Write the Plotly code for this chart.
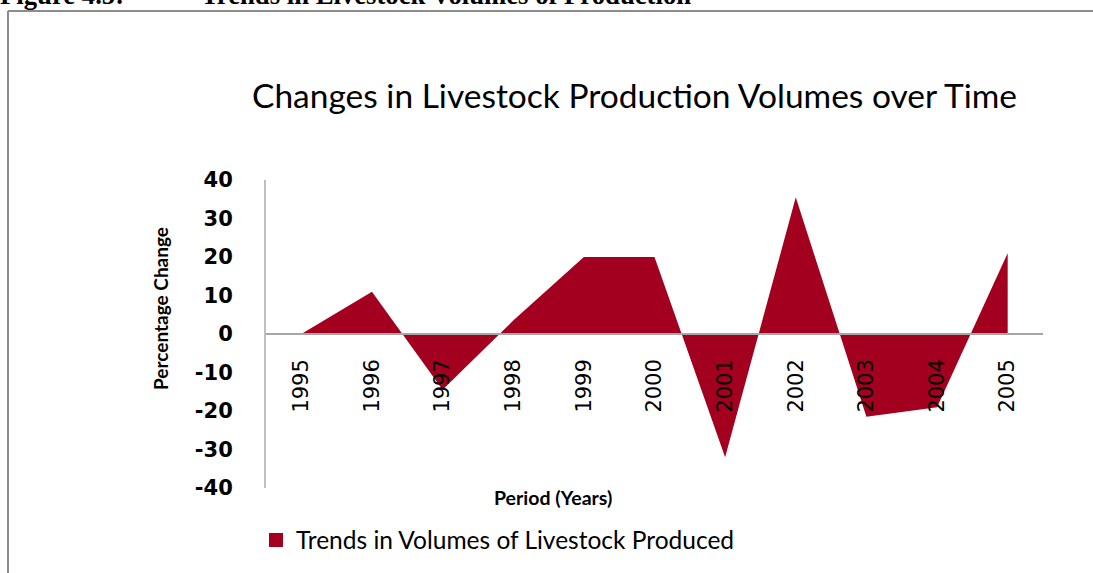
import plotly.graph_objects as go

years = ["1995", "1996", "1997", "1998", "1999", "2000", "2001", "2002", "2003", "2004", "2005"]
pct_change = [0, 11, -14.5, 3.5, 20, 20, -32, 35.5, -21.5, -19, 21]
y_ticks = [-40, -30, -20, -10, 0, 10, 20, 30, 40]
y_tick_text = ["-40", "-30", "-20", "-10", "0", "10", "20", "30", "40"]

W, H = 1093, 573
L, R, T, B = 266, 1043, 180, 488  # plot area in pixels


def px(x):
    return (x - L) / (R - L)


def py(y):
    return (B - y) / (B - T)


RED = "#A3001F"
fig = go.Figure()
fig.add_trace(go.Scatter(
    x=years, y=pct_change, mode="lines", fill="tozeroy",
    fillcolor=RED, line=dict(width=0, color=RED), showlegend=False,
    name="Trends in Volumes of Livestock Produced"))
fig.add_trace(go.Scatter(
    x=[None], y=[None], mode="markers",
    marker=dict(symbol="square", size=14, color=RED),
    name="Trends in Volumes of Livestock Produced", showlegend=True))

fig.update_layout(
    width=W, height=H,
    margin=dict(l=L, r=W - R, t=T, b=H - B, autoexpand=False),
    plot_bgcolor="white", paper_bgcolor="white",
    xaxis=dict(type="category", range=[-0.5, 10.5], anchor="free", position=0.5,
               showline=True, linecolor="#a6a6a6", linewidth=1.5,
               showgrid=False, zeroline=False, ticks="", tickangle=-90,
               ticklabelstandoff=16,
               tickfont=dict(family="DejaVu Sans", size=21, color="black")),
    yaxis=dict(range=[-40, 40], tickvals=y_ticks, ticktext=y_tick_text, showline=True,
               linecolor="#bfbfbf", linewidth=2, showgrid=False, zeroline=False,
               ticks="", ticklabelstandoff=27,
               tickfont=dict(family="DejaVu Sans", size=21, color="black", weight="bold")),
    showlegend=True,
    legend=dict(orientation="h", x=px(256), y=py(540), xanchor="left", yanchor="middle",
                font=dict(family="Lato", size=24.5, color="black"),
                itemwidth=30, bgcolor="rgba(0,0,0,0)"),
)

annotations = [
    dict(text="Changes in Livestock Production Volumes over Time", x=px(634), y=py(95),
         font=dict(family="Lato", size=33.5, color="black")),
    dict(text="Percentage Change", x=px(160), y=py(309), textangle=-90,
         font=dict(family="Lato", size=19, color="black", weight="bold")),
    dict(text="Period (Years)", x=px(553), y=py(497),
         font=dict(family="Lato", size=19.5, color="black", weight="bold")),
    dict(text="Figure 4.5:", x=px(-2), y=py(12), xanchor="left", yanchor="bottom",
         font=dict(family="Liberation Serif", size=26.7, color="black", weight="bold")),
    dict(text="Trends in Livestock Volumes of Production", x=px(199), y=py(12),
         xanchor="left", yanchor="bottom",
         font=dict(family="Liberation Serif", size=26.7, color="black", weight="bold")),
]
for a in annotations:
    a.setdefault("xanchor", "center")
    a.setdefault("yanchor", "middle")
    fig.add_annotation(xref="paper", yref="paper", showarrow=False, **a)

fig.add_shape(type="line", xref="paper", yref="paper", x0=px(8), x1=px(8), y0=py(11), y1=py(580),
              line=dict(color="#8c8c8c", width=2))
fig.add_shape(type="line", xref="paper", yref="paper", x0=px(8), x1=px(1100), y0=py(11), y1=py(11),
              line=dict(color="#8c8c8c", width=2))

fig.write_html("out.html")
